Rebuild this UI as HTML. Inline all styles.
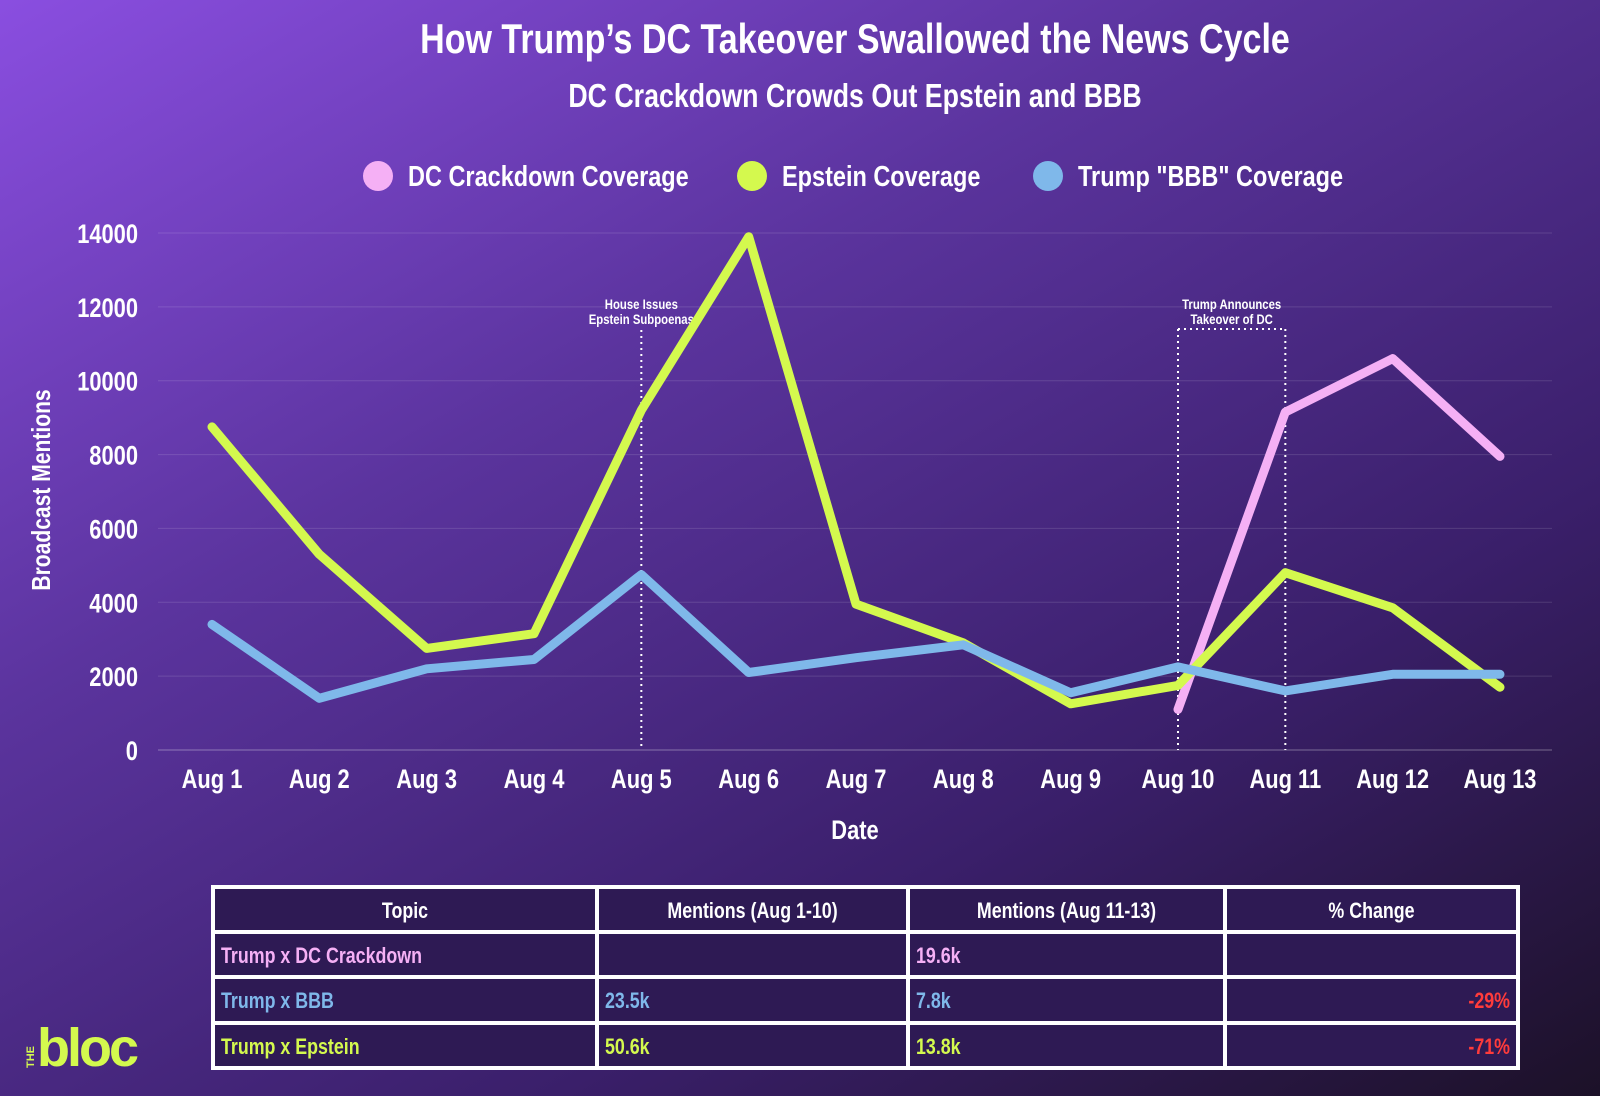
<!DOCTYPE html>
<html><head><meta charset="utf-8">
<style>
html,body{margin:0;padding:0;}
body{width:1600px;height:1096px;overflow:hidden;background:linear-gradient(150deg,#8a4ee0 0%,#5b349e 35%,#3a1f6a 70%,#1c1128 100%);font-family:"Liberation Sans Narrow","Liberation Sans",sans-serif;}
svg{display:block;}
svg text{font-family:"Liberation Sans Narrow","Liberation Sans",sans-serif;font-weight:bold;}
</style></head><body>
<svg id="chart" width="1600" height="1096" xmlns="http://www.w3.org/2000/svg">
<text x="855" y="53" text-anchor="middle" font-size="42" fill="#fff">How Trump’s DC Takeover Swallowed the News Cycle</text>
<text x="855" y="107" text-anchor="middle" font-size="33" fill="#fff">DC Crackdown Crowds Out Epstein and BBB</text>
<g>
<circle cx="378" cy="176" r="15" fill="#f5b0f5"/>
<text x="408" y="186" font-size="29" fill="#fff">DC Crackdown Coverage</text>
<circle cx="752" cy="176" r="15" fill="#d4f94e"/>
<text x="782" y="186" font-size="29" fill="#fff">Epstein Coverage</text>
<circle cx="1048" cy="176" r="15" fill="#7fb8ea"/>
<text x="1078" y="186" font-size="29" fill="#fff">Trump "BBB" Coverage</text>
</g>
<g id="grid"></g><g id="axes"></g><g id="annots"></g><g id="series"></g>
<text transform="translate(50,490) rotate(-90)" text-anchor="middle" font-size="26" fill="#fff">Broadcast Mentions</text>
<text x="855" y="839" text-anchor="middle" font-size="27" fill="#fff">Date</text>
<g id="table"></g>
<g>
<text transform="translate(34,1068) rotate(-90)" font-size="11" fill="#d4f94e" class="nc">THE</text>
<text x="37" y="1066" font-size="54" fill="#d4f94e" font-family="Liberation Sans" letter-spacing="-3" class="nc">bloc</text>
</g>
</svg>
<script>
const categories=["Aug 1","Aug 2","Aug 3","Aug 4","Aug 5","Aug 6","Aug 7","Aug 8","Aug 9","Aug 10","Aug 11","Aug 12","Aug 13"];
const epsteinValues=[8750,5300,2750,3150,9200,13900,3950,2900,1250,1750,4800,3850,1700];
const bbbValues=[3400,1400,2200,2450,4750,2100,2500,2850,1550,2250,1600,2050,2050];
const dcValues=[null,null,null,null,null,null,null,null,null,1100,9150,10600,7950];
const yTicks=[0,2000,4000,6000,8000,10000,12000,14000];
const NS="http://www.w3.org/2000/svg";
const x=i=>212+i*(1500-212)/12;
const y=v=>750-v*(750-233)/14000;
function mk(tag,attrs,parent,txt){const e=document.createElementNS(NS,tag);for(const k in attrs)e.setAttribute(k,attrs[k]);if(txt!==undefined)e.textContent=txt;document.getElementById(parent).appendChild(e);return e;}
yTicks.forEach(t=>{
 const l=mk('line',{x1:158,x2:1552,y1:y(t),y2:y(t),stroke:t===0?'rgba(255,255,255,0.35)':'rgba(255,255,255,0.13)','stroke-width':1},'grid');
 
 
 const tx=mk('text',{x:138,y:y(t)+10,'text-anchor':'end','font-size':27,fill:'#fff'},'axes',String(t));
 
 
});
categories.forEach((c,i)=>{
 const tx=mk('text',{x:x(i),y:788,'text-anchor':'middle','font-size':27,fill:'#fff'},'axes',c);
 
 
});
function vline(i,top,nm){const l=mk('line',{x1:x(i),x2:x(i),y1:top,y2:y(0),stroke:'#fff','stroke-width':2,'stroke-dasharray':'2,4'},'annots');}
vline(4,330,'annotation-line-aug5');
vline(9,329,'annotation-line-aug10');
vline(10,329,'annotation-line-aug11');
const hl=mk('line',{x1:x(9),x2:x(10),y1:329,y2:329,stroke:'#fff','stroke-width':2,'stroke-dasharray':'2,4'},'annots');


[["House Issues",x(4),309],["Epstein Subpoenas",x(4),324],["Trump Announces",(x(9)+x(10))/2,309],["Takeover of DC",(x(9)+x(10))/2,324]].forEach(a=>{
 const t=mk('text',{x:a[1],y:a[2],'text-anchor':'middle','font-size':14,fill:'#fff'},'annots',a[0]);
 
 
});
function series(vals,color,nm){
 let d='';vals.forEach((v,i)=>{if(v===null)return;d+=(d?'L':'M')+x(i).toFixed(1)+','+y(v).toFixed(1);});
 const p=mk('path',{d:d,fill:'none',stroke:color,'stroke-width':9,'stroke-linejoin':'round','stroke-linecap':'round'},'series');
 
 
}
series(dcValues,'#f5b0f5','dc-crackdown-line');
series(epsteinValues,'#d4f94e','epstein-line');
series(bbbValues,'#7fb8ea','bbb-line');
const tableRows=[["Trump x DC Crackdown","","19.6k",""],["Trump x BBB","23.5k","7.8k","-29%"],["Trump x Epstein","50.6k","13.8k","-71%"]];
const headers=["Topic","Mentions (Aug 1-10)","Mentions (Aug 11-13)","% Change"];
const rowColors=['#f5b0f5','#7fb8ea','#d4f94e'];
const cols=[213,597,908,1225,1518];const rows=[887,932,977,1023,1068];
const bg=mk('rect',{x:213,y:887,width:1305,height:181,fill:'#2e1a54',stroke:'#fff','stroke-width':4},'table');


cols.slice(1,-1).forEach(c=>{const l=mk('line',{x1:c,x2:c,y1:887,y2:1068,stroke:'#fff','stroke-width':4},'table');});
rows.slice(1,-1).forEach(r=>{const l=mk('line',{x1:213,x2:1518,y1:r,y2:r,stroke:'#fff','stroke-width':4},'table');});
headers.forEach((h,i)=>{const t=mk('text',{x:(cols[i]+cols[i+1])/2,y:918,'text-anchor':'middle','font-size':22,fill:'#fff'},'table',h);});
tableRows.forEach((r,ri)=>{r.forEach((v,ci)=>{if(!v)return;const right=ci===3;
 const t=mk('text',{x:right?cols[4]-8:cols[ci]+8,y:rows[ri+1]+31,'text-anchor':right?'end':'start','font-size':22,fill:right?'#ff3b3b':rowColors[ri]},'table',v);
 
 });});
// condense text to mimic a narrow font
document.querySelectorAll('svg text').forEach(t=>{
 if(t.classList.contains('nc'))return;
 const len=t.getComputedTextLength();
 if(len>0){t.setAttribute('textLength',(len*0.81).toFixed(1));t.setAttribute('lengthAdjust','spacingAndGlyphs');}
});
</script>
</body></html>
